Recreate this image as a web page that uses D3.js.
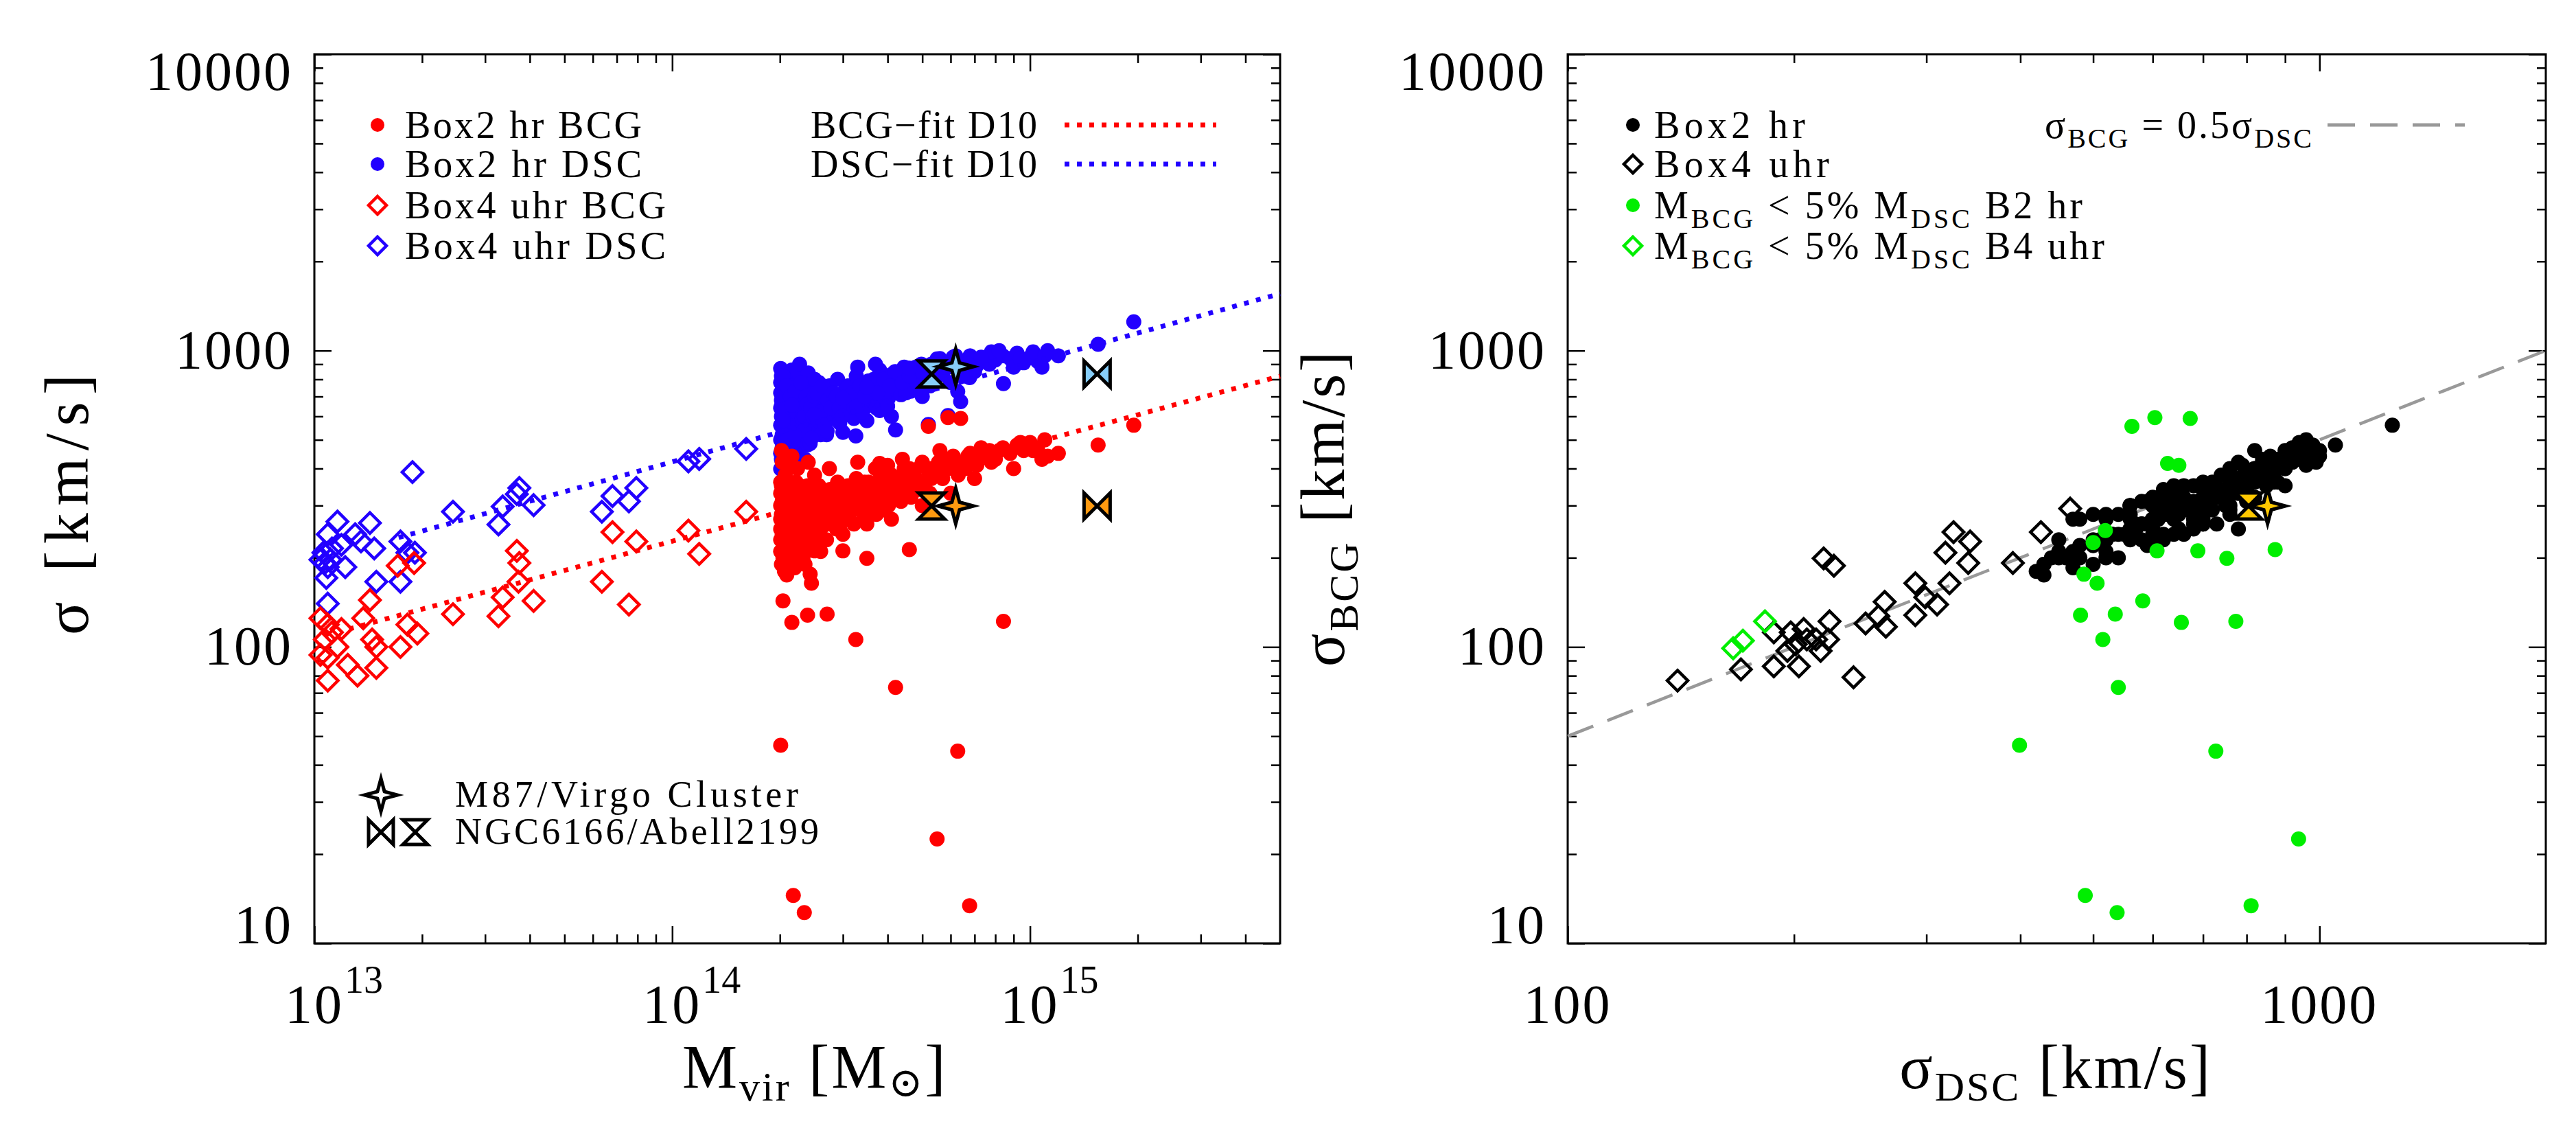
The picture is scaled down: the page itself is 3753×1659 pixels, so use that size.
<!DOCTYPE html>
<html><head><meta charset="utf-8">
<script src="https://cdn.jsdelivr.net/npm/d3@7"></script>
<style>body{margin:0;background:#fff}text{font-family:"Liberation Serif","DejaVu Serif",serif;fill:#000}</style>
</head><body><svg id="c" width="3753" height="1659"></svg>
<script>
// Box2 hr haloes: [Mvir (1e14 Msun), sigma_BCG, sigma_DSC]
const box2 = [
[2.02,250,600],[2.02,280,650],[2.03,230,520],[2.03,310,700],[2.04,200,450],[2.04,260,580],[2.05,340,760],[2.05,220,480],[2.06,290,640],[2.06,180,420],
[2.07,270,610],[2.08,320,720],[2.08,240,550],[2.09,210,470],[2.10,300,680],[2.10,260,570],[2.11,350,800],[2.12,230,510],[2.13,280,620],[2.14,200,440],
[2.15,330,740],[2.15,250,560],[2.17,290,660],[2.18,220,500],[2.19,310,690],[2.20,270,600],[2.21,240,530],[2.22,360,820],[2.23,200,460],[2.25,300,650],
[2.26,260,590],[2.28,230,520],[2.30,320,710],[2.31,280,630],[2.33,250,560],[2.35,190,430],[2.36,340,750],[2.38,270,610],[2.40,300,670],[2.42,220,500],
[2.44,290,640],[2.46,260,580],[2.48,330,720],[2.50,240,540],[2.52,310,690],[2.55,280,620],[2.57,350,780],[2.60,250,560],[2.62,300,660],[2.65,270,600],
[2.68,320,700],[2.70,230,520],[2.73,290,640],[2.76,340,740],[2.80,260,590],[2.83,310,680],[2.86,280,620],[2.90,360,800],[2.94,250,570],[2.97,300,660],
[3.00,330,720],[3.05,270,610],[3.10,350,760],[3.14,290,650],[3.18,320,700],[3.22,260,590],[3.27,370,820],[3.32,300,670],[3.37,340,740],[3.42,280,630],
[3.48,320,710],[3.54,360,790],[3.60,300,680],[3.66,340,750],[3.72,280,640],[3.80,390,860],[3.87,320,720],[3.95,350,770],[4.02,300,690],[4.10,380,830],
[4.18,330,740],[4.27,360,790],[4.36,310,710],[4.45,400,880],[4.55,350,770],[4.65,320,730],[4.75,380,840],[4.86,340,760],[4.97,410,900],[5.10,360,800],
[5.25,330,760],[5.40,390,860],[5.55,420,920],[5.70,370,830],[5.90,400,880],[6.10,440,950],[6.30,380,860],[6.55,420,920],[6.80,450,960],[7.10,410,890],
[7.40,440,940],[7.70,460,900],[8.00,430,930],[8.40,470,960],[8.80,450,940],[9.20,480,980],[9.60,460,910],[10.0,490,950],[10.5,470,920],[11.2,440,1000],
[15.5,480,1050],[19.5,560,1250],
[2.01,360,870],[2.02,460,820],[2.03,420,780],[2.05,190,500],[2.07,380,740],[2.09,175,430],[2.11,410,790],[2.13,330,760],[2.16,440,860],[2.20,185,470],
[2.24,400,850],[2.27,350,900],[2.32,200,480],[2.40,420,840],[2.50,380,800],[2.60,210,520],[2.75,400,760],[3.00,240,530],[3.30,420,880],[3.50,260,580],
[3.70,400,900],[4.10,270,600],[4.40,430,840],[5.00,300,700],[5.60,460,940],[6.00,330,780],[7.00,370,850],[7.80,420,990],[9.00,400,880],[10.8,430,880],
[12.0,450,960],[2.04,300,560],[2.06,240,620],[2.08,280,520],[2.12,200,540],[2.14,320,600],[2.18,260,700],[2.22,300,560],[2.29,270,680],[2.37,240,600],
[2.45,320,660],[2.58,280,700],[2.66,300,600],[2.88,250,650],[3.08,300,750],[3.40,310,620],[3.90,290,700],[4.50,340,720],[5.30,370,780],[6.60,400,820],
[2.01,230,500],[2.01,270,560],[2.01,300,640],[2.01,210,450],[2.01,330,720],[2.01,250,780],[2.02,190,430],[2.02,350,680],[2.03,270,470],[2.03,240,660],
[2.04,320,820],[2.04,280,540],[2.05,260,700],[2.06,310,590],[2.06,230,620],[2.07,200,520],[2.08,350,640],[2.09,290,760],[2.10,230,450],[2.11,270,520],
[2.12,310,580],[2.13,250,680],[2.14,350,700],[2.16,270,480],[2.17,230,600],[2.18,320,650],[2.20,300,560],[2.21,260,730],[2.23,340,620],[2.25,230,560],
[2.27,280,500],[2.29,330,780],[2.31,220,590],[2.34,300,600],[2.37,260,700],[2.39,350,660],[2.42,280,560],[2.44,240,640],[2.47,310,600],[2.50,270,700],
[2.53,350,720],[2.56,230,580],[2.60,320,620],[2.63,280,760],[2.67,300,560],[2.72,260,680],[2.78,330,640],[2.82,290,720],[2.88,350,700],[2.93,270,640],
[2.99,310,600],[3.05,340,700],[3.12,280,700],[3.20,350,720],[3.28,320,650],[3.35,300,760],[3.45,360,700],[3.55,330,760],[3.65,310,800],[3.75,360,720],
[3.90,340,800],[4.05,380,760],[4.20,350,850],[4.40,370,780],[4.60,400,820],[4.80,360,880],[5.00,420,850],[5.30,400,900],[5.80,430,880],[6.20,410,960],
[6.70,440,900],[7.30,470,950],[8.20,460,1000],[9.40,490,940],[10.2,460,990],[11.0,500,960]
];
// Box2 hr haloes with M_BCG < 5% M_DSC: [Mvir (1e14), sigma_BCG, sigma_DSC]
const box2small = [
[2.01,46.6,399],[2.18,14.5,488],[2.34,12.7,538],[6.78,13.4,811],[5.50,22.5,938],[6.28,44.5,728],[4.21,73,540],[3.26,106,515],[2.04,143,582],[2.16,121,655],
[2.39,128,481],[2.71,129,535],[8.43,122,774],[2.43,176,486],[2.45,164,506],[2.10,225,500],[2.20,247,519],[2.50,211,608],[3.00,211,689],[3.50,199,753],
[4.60,213,873],[5.20,555,563],[5.90,594,604],[6.40,590,673],[3.80,416,628],[4.00,410,650]
];
// Box4 uhr (left panel): Mvir (Msun) and sigma
const b4bcgM = [1.04e13,1.07e13,1.09e13,1.12e13,1.09e13,1.04e13,1.09e13,1.16e13,1.19e13,1.24e13,1.32e13,1.37e13,1.43e13,1.45e13,1.49e13,1.49e13,1.71e13,1.74e13,1.82e13,1.90e13,1.94e13,2.44e13,3.27e13,3.36e13,3.68e13,3.74e13,3.72e13,4.10e13,6.36e13,6.81e13,7.57e13,7.94e13,1.11e14,1.19e14,1.61e14];
const b4bcgS = [125,106,119,112,92,94,77,100,115,87,80,125,144,106,100,85,188,100,119,192,111,129,127,147,211,192,166,143,166,244,139,227,247,206,286];
const b4dscM = [1.04e13,1.07e13,1.09e13,1.08e13,1.11e13,1.12e13,1.09e13,1.16e13,1.19e13,1.22e13,1.30e13,1.35e13,1.43e13,1.47e13,1.49e13,1.74e13,1.74e13,1.82e13,1.91e13,1.88e13,2.44e13,3.27e13,3.36e13,3.68e13,3.74e13,4.10e13,6.36e13,6.81e13,7.57e13,7.94e13,1.11e14,1.19e14,1.61e14,1.09e13,1.06e13];
const b4dscS = [197,192,186,171,197,215,240,265,221,186,240,227,262,215,166,227,166,208,208,389,286,259,298,328,344,301,286,323,310,344,423,431,466,140,208];
// Box4 uhr (right panel): sigma_DSC, sigma_BCG
const b4pairD = [140,170,188,203,196,198,201,206,208,214,217,222,223,219,226,240,249,259,265,264,290,290,299,310,318,322,326,341,343,391,426,466,188];
const b4pairB = [77,84,86,86,97,112,102,115,106,106,97,106,122,199,188,79,120,127,117,142,128,164,147,139,208,164,244,192,227,192,244,293,112];
const b4smallD = [166,171,183];
const b4smallB = [99,105,122];
// fits (two end points each, log-linear)
const fitBCG_M = [1.25e13,5e15], fitBCG_S = [115,820];
const fitDSC_M = [1.72e13,5e15], fitDSC_S = [234,1556];
const ratioLine = [100,2000]; // sigma_BCG = 0.5 sigma_DSC
// observations
const virgo = {M:6.20e14, sBCG:299, sDSC:883, dD:853};
const abell = {M:5.31e14, M2:1.54e15, sBCG:299, sDSC:834, dD:805};

const svg = d3.select("#c");
const y = d3.scaleLog().domain([10,10000]).range([1374,79]);
const xL = d3.scaleLog().domain([1e13,5e15]).range([458,1865]);
const xR = d3.scaleLog().domain([100,2000]).range([2284,3709]);
const RED="#ff0000", BLUE="#2200ff", GREEN="#00ee00", LB="#87cefa", OR="#ff9a10", YO="#ffc800";
const R0=11;

function minors(lo,hi){const a=[];for(let e=Math.floor(Math.log10(lo));e<=Math.ceil(Math.log10(hi));e++)for(let k=2;k<10;k++){const v=k*Math.pow(10,e);if(v>lo&&v<hi)a.push(v);}return a;}
function majors(lo,hi){const a=[];for(let e=Math.floor(Math.log10(lo));e<=Math.ceil(Math.log10(hi));e++){const v=Math.pow(10,e);if(v>=lo&&v<=hi)a.push(v);}return a;}

function frame(x){
  const [x0,x1]=x.range(), [y1,y0]=y.range();
  const g=svg.append("g");
  const dx=x.domain(), dy=y.domain();
  const mk=(axis,tr,vals,len)=>{const a=g.append("g").attr("transform",tr).call(axis.tickValues(vals).tickSize(len).tickFormat(""));a.select(".domain").remove();a.selectAll("line").attr("stroke","#000").attr("stroke-width",2.5);};
  [[majors,25],[minors,13]].forEach(([f,L])=>{
    mk(d3.axisBottom(x),`translate(0,${y1})`,f(dx[0],dx[1]),-L);
    mk(d3.axisTop(x),`translate(0,${y0})`,f(dx[0],dx[1]),-L);
    mk(d3.axisLeft(y),`translate(${x0},0)`,f(dy[0],dy[1]),-L);
    mk(d3.axisRight(y),`translate(${x1},0)`,f(dy[0],dy[1]),-L);
  });
  g.append("rect").attr("x",x0).attr("y",y0).attr("width",x1-x0).attr("height",y1-y0).attr("fill","none").attr("stroke","#000").attr("stroke-width",3);
  majors(dy[0],dy[1]).forEach(v=>{
    let ty=Math.min(Math.max(y(v)+26,y0+52),y1);
    g.append("text").attr("x",x0-31).attr("y",ty).attr("text-anchor","end").attr("font-size",80).attr("letter-spacing",3).text(d3.format("d")(v));
  });
}
frame(xL); frame(xR);
majors(1e13,5e15).forEach(v=>{
  svg.append("text").attr("x",xL(v)).attr("y",1490).attr("text-anchor","middle").attr("font-size",80).attr("letter-spacing",3).text("10");
  svg.append("text").attr("x",xL(v)+44).attr("y",1446).attr("font-size",56).text(Math.round(Math.log10(v)));
});
majors(100,2000).forEach(v=>{
  svg.append("text").attr("x",xR(v)).attr("y",1490).attr("text-anchor","middle").attr("font-size",80).attr("letter-spacing",3).text(d3.format("d")(v));
});

function diamond(g,cx,cy,col,h){g.append("path").attr("d",`M${cx},${cy-h}L${cx+h},${cy}L${cx},${cy+h}L${cx-h},${cy}Z`).attr("fill","none").attr("stroke",col).attr("stroke-width",4.5);}
function dot(g,cx,cy,col,r){g.append("circle").attr("cx",cx).attr("cy",cy).attr("r",r).attr("fill",col);}
function star(g,cx,cy,col,R){const r=R*0.3;let p=[];for(let i=0;i<8;i++){const a=i*Math.PI/4-Math.PI/2,rr=i%2?r:R;p.push([cx+rr*Math.cos(a),cy+rr*Math.sin(a)]);}
  g.append("path").attr("d","M"+p.map(q=>q.join(",")).join("L")+"Z").attr("fill",col).attr("stroke","#000").attr("stroke-width",5).attr("stroke-linejoin","miter");}
function hourglass(g,cx,cy,col,h){g.append("path").attr("d",`M${cx-h},${cy-h}H${cx+h}L${cx-h},${cy+h}H${cx+h}Z`).attr("fill",col).attr("stroke","#000").attr("stroke-width",5);}
function bowtie(g,cx,cy,col,h){g.append("path").attr("d",`M${cx-h},${cy-h}V${cy+h}L${cx+h},${cy-h}V${cy+h}Z`).attr("fill",col).attr("stroke","#000").attr("stroke-width",5);}

// ---- LEFT PANEL ----
const gL=svg.append("g");
b4dscM.forEach((m,i)=>diamond(gL,xL(m),y(b4dscS[i]),BLUE,15));
b4bcgM.forEach((m,i)=>diamond(gL,xL(m),y(b4bcgS[i]),RED,15));
const all2=box2.concat(box2small);
all2.forEach(d=>dot(gL,xL(d[0]*1e14),y(d[2]),BLUE,R0));
all2.forEach(d=>dot(gL,xL(d[0]*1e14),y(d[1]),RED,R0));
const line=(x,X,Y)=>d3.line().x((d,i)=>x(X[i])).y((d,i)=>y(Y[i]))(X);
gL.append("path").attr("d",line(xL,fitDSC_M,fitDSC_S)).attr("stroke",BLUE).attr("stroke-width",7).attr("stroke-dasharray","7 11").attr("fill","none");
gL.append("path").attr("d",line(xL,fitBCG_M,fitBCG_S)).attr("stroke",RED).attr("stroke-width",7).attr("stroke-dasharray","7 11").attr("fill","none");
hourglass(gL,xL(abell.M),y(abell.sDSC),LB,19); star(gL,xL(virgo.M),y(virgo.sDSC),LB,26); bowtie(gL,xL(abell.M2),y(abell.sDSC),LB,19);
hourglass(gL,xL(abell.M),y(abell.sBCG),OR,19); star(gL,xL(virgo.M),y(virgo.sBCG),OR,26); bowtie(gL,xL(abell.M2),y(abell.sBCG),OR,19);

const legL=[["Box2 hr BCG","dot",RED,345],["Box2 hr DSC","dot",BLUE,345],["Box4 uhr BCG","dia",RED,380],["Box4 uhr DSC","dia",BLUE,380]];
const rowY=[182,239,299,358];
legL.forEach((d,i)=>{ if(d[1]==="dot") dot(gL,550,rowY[i],d[2],10); else diamond(gL,550,rowY[i],d[2],13);
  gL.append("text").attr("x",590).attr("y",rowY[i]+19).attr("font-size",56).attr("textLength",d[3]).attr("lengthAdjust","spacing").text(d[0]);});
[["BCG−fit D10",RED],["DSC−fit D10",BLUE]].forEach((d,i)=>{
  gL.append("text").attr("x",1511).attr("y",rowY[i]+19).attr("text-anchor","end").attr("font-size",56).attr("textLength",330).attr("lengthAdjust","spacing").text(d[0]);
  gL.append("line").attr("x1",1551).attr("x2",1772).attr("y1",rowY[i]).attr("y2",rowY[i]).attr("stroke",d[1]).attr("stroke-width",7).attr("stroke-dasharray","7 11");
});
star(gL,555,1158,"none",24);
bowtie(gL,555,1212,"none",18); hourglass(gL,605,1212,"none",18);
gL.append("text").attr("x",663).attr("y",1175).attr("font-size",54).attr("textLength",500).attr("lengthAdjust","spacing").text("M87/Virgo Cluster");
gL.append("text").attr("x",663).attr("y",1229).attr("font-size",54).attr("textLength",530).attr("lengthAdjust","spacing").text("NGC6166/Abell2199");

svg.append("text").attr("transform","translate(128,735) rotate(-90)").attr("text-anchor","middle").attr("font-size",90).attr("textLength",380).attr("lengthAdjust","spacing").text("σ [km/s]");
const tl=svg.append("text").attr("x",994).attr("y",1585).attr("font-size",90).attr("letter-spacing",3);
tl.append("tspan").text("M");tl.append("tspan").attr("font-size",60).attr("dy",18).text("vir");tl.append("tspan").attr("dy",-18).text(" [M");tl.append("tspan").attr("font-size",60).attr("dy",12).text("⊙");tl.append("tspan").attr("dy",-12).text("]");

// ---- RIGHT PANEL ----
const gR=svg.append("g");
gR.append("path").attr("d",line(xR,ratioLine,ratioLine.map(v=>0.5*v))).attr("stroke","#999").attr("stroke-width",4.5).attr("stroke-dasharray","40 22").attr("fill","none");
b4pairD.forEach((d,i)=>diamond(gR,xR(d),y(b4pairB[i]),"#000",15));
b4smallD.forEach((d,i)=>diamond(gR,xR(d),y(b4smallB[i]),GREEN,15));
box2.forEach(d=>dot(gR,xR(d[2]),y(d[1]),"#000",R0));
box2small.forEach(d=>dot(gR,xR(d[2]),y(d[1]),GREEN,R0));
hourglass(gR,xR(abell.dD),y(abell.sBCG),YO,19); star(gR,xR(virgo.dD),y(virgo.sBCG),YO,26);

dot(gR,2379,rowY[0],"#000",10); diamond(gR,2379,rowY[1],"#000",13); dot(gR,2379,rowY[2],GREEN,10); diamond(gR,2379,rowY[3],GREEN,13);
gR.append("text").attr("x",2410).attr("y",rowY[0]+19).attr("font-size",56).attr("textLength",220).attr("lengthAdjust","spacing").text("Box2 hr");
gR.append("text").attr("x",2410).attr("y",rowY[1]+19).attr("font-size",56).attr("textLength",255).attr("lengthAdjust","spacing").text("Box4 uhr");
function mlab(i,tail){const t=gR.append("text").attr("x",2410).attr("y",rowY[i]+19).attr("font-size",56).attr("letter-spacing",4);
  t.append("tspan").text("M");t.append("tspan").attr("font-size",40).attr("dy",14).text("BCG");t.append("tspan").attr("dy",-14).text("  <  5%  M");
  t.append("tspan").attr("font-size",40).attr("dy",14).text("DSC");t.append("tspan").attr("dy",-14).text(tail);}
mlab(2,"  B2  hr"); mlab(3,"  B4  uhr");
const rl=gR.append("text").attr("x",2979).attr("y",rowY[0]+19).attr("font-size",56).attr("letter-spacing",3);
rl.append("tspan").text("σ");rl.append("tspan").attr("font-size",40).attr("dy",14).text("BCG");rl.append("tspan").attr("dy",-14).text("  =  0.5σ");rl.append("tspan").attr("font-size",40).attr("dy",14).text("DSC");
gR.append("line").attr("x1",3391).attr("x2",3591).attr("y1",rowY[0]).attr("y2",rowY[0]).attr("stroke","#999").attr("stroke-width",5).attr("stroke-dasharray","40 22");

const ty=svg.append("text").attr("transform","translate(1958,740) rotate(-90)").attr("text-anchor","middle").attr("font-size",90).attr("letter-spacing",3);
ty.append("tspan").text("σ");ty.append("tspan").attr("font-size",60).attr("dy",20).text("BCG");ty.append("tspan").attr("dy",-20).text(" [km/s]");
const tx=svg.append("text").attr("x",2995).attr("y",1585).attr("text-anchor","middle").attr("font-size",90).attr("letter-spacing",3);
tx.append("tspan").text("σ");tx.append("tspan").attr("font-size",60).attr("dy",18).text("DSC");tx.append("tspan").attr("dy",-18).text(" [km/s]");
</script></body></html>
